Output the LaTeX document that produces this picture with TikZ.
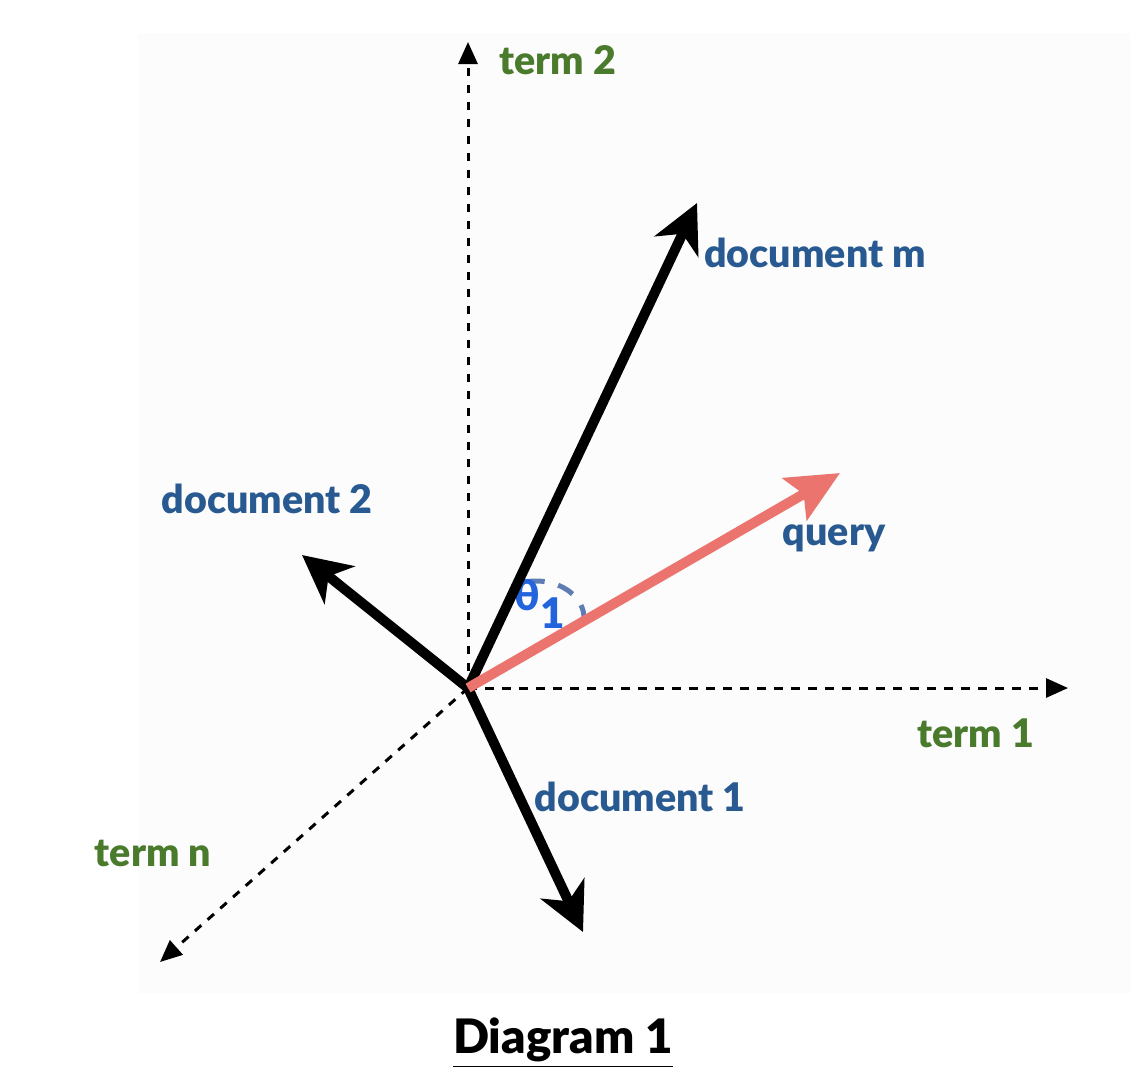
\documentclass[tikz,border=0pt]{standalone}
\usepackage{fontspec}
\setmainfont{Lato}[BoldFont={Lato Black}]
\usetikzlibrary{arrows.meta}
\definecolor{docblue}{RGB}{40,90,145}
\definecolor{termgreen}{RGB}{74,122,44}
\definecolor{queryred}{RGB}{236,116,110}
\definecolor{anglegray}{RGB}{95,125,180}
\definecolor{thetablue}{RGB}{35,100,220}
\tikzset{
    axis/.style     = {-{Triangle[length=2.2mm,width=1.9mm]}, line width=0.85pt, dash pattern=on 0.85mm off 0.85mm},
    vec/.style      = {-{Stealth[length=4.8mm,width=4.8mm,inset=1.4mm]}, line width=1mm},
    termlabel/.style = {font=\fontsize{11.2}{13}\selectfont\bfseries, text=termgreen, inner sep=1pt},
    doclabel/.style  = {font=\fontsize{11.2}{13}\selectfont\bfseries, text=docblue, inner sep=1pt}
}

\begin{document}
\begin{tikzpicture}[
        querystyle/.style={-{Stealth[length=5.2mm,width=4.8mm,inset=1mm]}, line width=1mm, draw=queryred},
        anglearc/.style={line width=0.5mm, draw=anglegray, dash pattern=on 1.7mm off 1.4mm}
    ]
    \useasboundingbox (0,0) rectangle (11.3,10.9);
    \fill[black!1] (1.38,0.97) rectangle (11.3,10.57);

    % --- Origin and vector tips ---
    \coordinate (orig) at (4.68,4.02);
    \coordinate (t2_tip) at (4.68,10.48);
    \coordinate (t1_tip) at (10.68,4.02);
    \coordinate (tn_tip) at (1.60,1.28);
    \coordinate (dm_tip) at (6.97,8.87);
    \coordinate (d2_tip) at (3.02,5.35);
    \coordinate (d1_tip) at (5.83,1.58);
    \coordinate (q_tip) at (8.40,6.17);
    \coordinate (arc_c) at (5.36,4.72);

    % --- Labels ---
    \node[termlabel] (term_2) at (5.58,10.30) {term 2};
    \node[termlabel] (term_1) at (9.76,3.57) {term 1};
    \node[termlabel] (term_n) at (1.53,2.37) {term n};
    \node[doclabel] (doc_m) at (8.15,8.37) {document m};
    \node[doclabel] (doc_2) at (2.67,5.91) {document 2};
    \node[doclabel] (doc_1) at (6.40,2.93) {document 1};
    \node[doclabel] (query) at (8.34,5.52) {query};
    \node[font=\fontsize{13.5}{16}\selectfont\bfseries, inner sep=1pt] (title) at (5.63,0.47) {\underline{Diagram 1}};

    % --- Axes ---
    \draw[axis] (orig) -- (t2_tip);
    \draw[axis] (orig) -- (t1_tip);
    \draw[axis] (orig) -- (tn_tip);

    % --- Angle between query and document m ---
    \draw[anglearc] ([shift={(100:0.48 and 0.37)}]arc_c) arc[start angle=100, end angle=-8, x radius=0.48, y radius=0.37];
    \node[font=\fontsize{12}{14}\selectfont\bfseries, text=thetablue, inner sep=0pt] (theta) at (5.40,4.86) {θ\raisebox{-0.8ex}{1}};

    % --- Document vectors ---
    \draw[vec] (orig) -- (dm_tip);
    \draw[vec] (orig) -- (d2_tip);
    \draw[vec] (orig) -- (d1_tip);
    \draw[querystyle] (orig) -- (q_tip);
\end{tikzpicture}
\end{document}
